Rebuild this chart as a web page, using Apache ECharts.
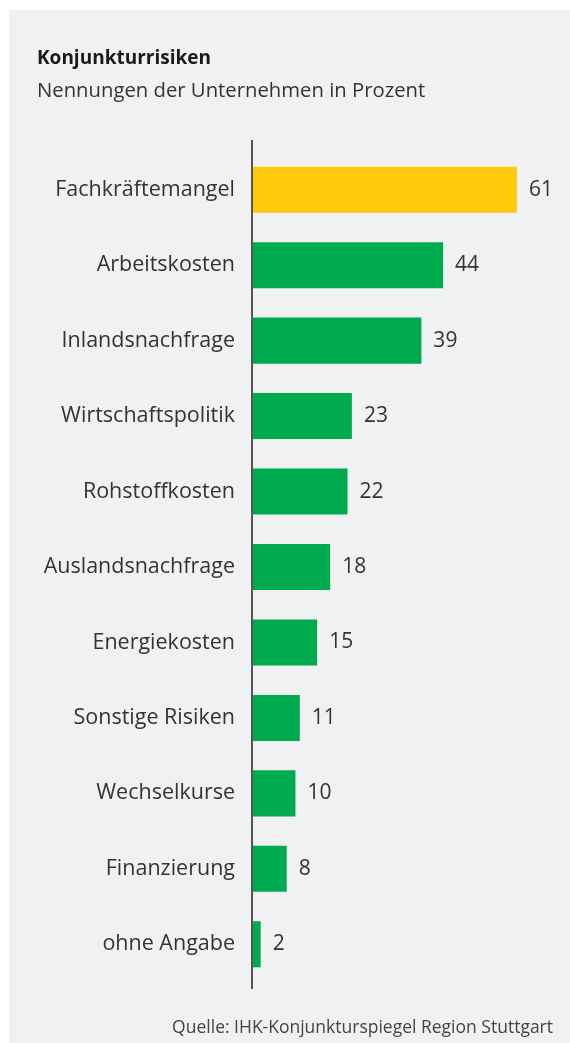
<!DOCTYPE html>
<html>
<head>
<meta charset="utf-8">
<script src="https://cdn.jsdelivr.net/npm/echarts@6/dist/echarts.min.js"></script>
<style>
  html, body { margin: 0; padding: 0; background: #fff; }
  #chart { width: 570px; height: 1043px; }
</style>
</head>
<body>
<div id="chart"></div>
<script>
// Daten
var kategorien = ['Fachkräftemangel', 'Arbeitskosten', 'Inlandsnachfrage', 'Wirtschaftspolitik', 'Rohstoffkosten',
  'Auslandsnachfrage', 'Energiekosten', 'Sonstige Risiken', 'Wechselkurse', 'Finanzierung', 'ohne Angabe'];
var werte = [61, 44, 39, 23, 22, 18, 15, 11, 10, 8, 2];
var hervorgehoben = ['Fachkräftemangel'];

var schrift = 'Open Sans';
var chart = echarts.init(document.getElementById('chart'));

var daten = [];
for (var i = 0; i < werte.length; i++) {
  daten.push({
    value: werte[i],
    itemStyle: { color: hervorgehoben.indexOf(kategorien[i]) >= 0 ? '#FFC90C' : '#00AA4F' }
  });
}

chart.setOption({
  backgroundColor: '#fff',
  graphic: [
    { type: 'rect', shape: { x: 9, y: 10, width: 570, height: 1040 }, style: { fill: '#F0F1F3' }, z: -10 },
    { type: 'line', shape: { x1: 252, y1: 140, x2: 252, y2: 989 }, style: { stroke: '#555', lineWidth: 2 }, z: 10 }
  ],
  title: [{
    text: 'Konjunkturrisiken',
    left: 32, top: 44,
    textStyle: { fontFamily: schrift, fontSize: 19, fontWeight: 'bold', color: '#1a1a1a' }
  }, {
    text: 'Nennungen der Unternehmen in Prozent',
    left: 32, top: 76,
    textStyle: { fontFamily: schrift, fontSize: 20.3, fontWeight: 'normal', color: '#333' }
  }, {
    text: 'Quelle: IHK-Konjunkturspiegel Region Stuttgart',
    right: 12, top: 1014,
    textStyle: { fontFamily: schrift, fontSize: 17.5, fontWeight: 'normal', color: '#444' }
  }],
  grid: { left: 252, top: 152, height: 830, right: 14, containLabel: false },
  xAxis: {
    type: 'value', min: 0, max: 70, show: false
  },
  yAxis: {
    type: 'category',
    data: kategorien,
    inverse: true,
    axisLine: { show: false },
    axisTick: { show: false },
    axisLabel: { margin: 17, fontFamily: schrift, fontSize: 21.5, color: '#333', padding: [3, 0, 0, 0] }
  },
  series: [{
    type: 'bar',
    data: daten,
    barCategoryGap: '39%',
    label: {
      show: true, position: 'right', distance: 12,
      fontFamily: schrift, fontSize: 21, color: '#333', padding: [3, 0, 0, 0]
    }
  }]
});
</script>
</body>
</html>
